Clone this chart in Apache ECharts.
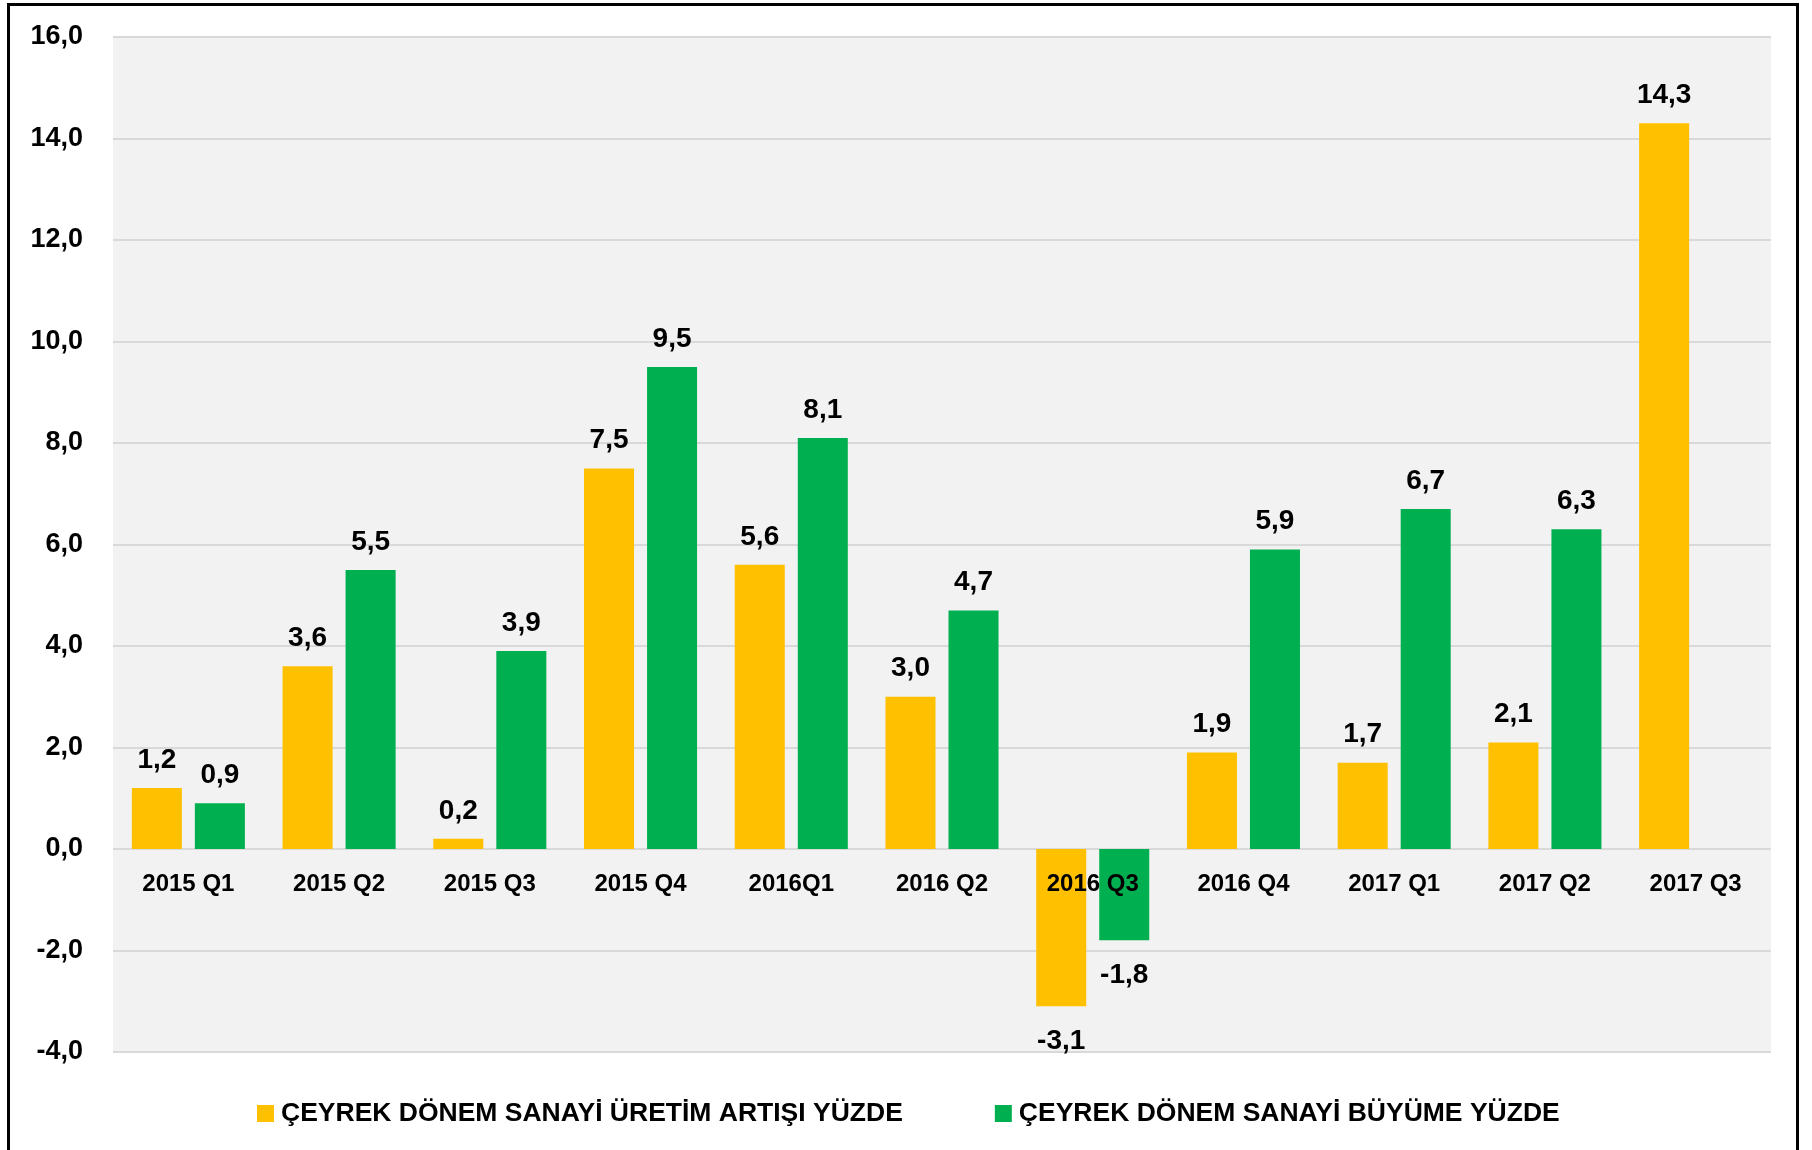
<!DOCTYPE html>
<html>
<head>
<meta charset="utf-8">
<script src="https://cdn.jsdelivr.net/npm/echarts@6/dist/echarts.min.js"></script>
<style>
  html, body { margin: 0; padding: 0; background: #fff; }
  #chart { width: 1812px; height: 1150px; }
  #frame { position: absolute; left: 7px; top: 3px; width: 1792px; height: 1170px; border: 3px solid #000; pointer-events: none; box-sizing: border-box; }
</style>
</head>
<body>
<div id="chart"></div>
<div id="frame"></div>
<script>
const categories = ['2015 Q1', '2015 Q2', '2015 Q3', '2015 Q4', '2016Q1', '2016 Q2', '2016 Q3', '2016 Q4', '2017 Q1', '2017 Q2', '2017 Q3'];
const uretimArtisi = [1.2, 3.6, 0.2, 7.5, 5.6, 3.0, -3.1, 1.9, 1.7, 2.1, 14.3];
const buyume = [0.9, 5.5, 3.9, 9.5, 8.1, 4.7, -1.8, 5.9, 6.7, 6.3, null];
const seriesNames = ['ÇEYREK DÖNEM SANAYİ ÜRETİM ARTIŞI YÜZDE', 'ÇEYREK DÖNEM SANAYİ BÜYÜME YÜZDE'];
const yMin = -4, yMax = 16, yStep = 2;

const FONT = '"Liberation Sans", Arial, sans-serif';
const fmt = v => v.toFixed(1).replace('.', ',');

const CHART_H = 1150, GRID_TOP = 37, GRID_BOTTOM = 98;
const gridHeight = CHART_H - GRID_TOP - GRID_BOTTOM;
// move the category axis up to the zero line
const zeroOffset = -((0 - yMin) / (yMax - yMin)) * gridHeight;

function toItems(arr) {
  return arr.map(v => v == null ? null : {
    value: v,
    label: v < 0 ? { position: 'bottom', distance: 21 } : { position: 'top', distance: 14 }
  });
}

const labelStyle = {
  show: true,
  color: '#000',
  fontFamily: FONT,
  fontWeight: 'bold',
  fontSize: 28,
  formatter: p => fmt(p.value)
};

const chart = echarts.init(document.getElementById('chart'), null, { renderer: 'canvas' });
chart.setOption({
  animation: false,
  backgroundColor: '#fff',
  textStyle: { fontFamily: FONT },
  grid: {
    left: 113, right: 41, top: GRID_TOP, bottom: GRID_BOTTOM,
    show: true, backgroundColor: '#F2F2F2', borderWidth: 0
  },
  legend: {
    left: 252, top: 1095,
    icon: 'rect', itemWidth: 17, itemHeight: 17, itemGap: 92,
    textStyle: { color: '#000', fontFamily: FONT, fontWeight: 'bold', fontSize: 26.5, padding: [0, 0, 0, 2] },
    data: seriesNames
  },
  xAxis: {
    type: 'category',
    data: categories,
    z: 10,
    position: 'bottom',
    offset: zeroOffset,
    axisLine: { show: false, onZero: false },
    axisTick: { show: false },
    axisLabel: { color: '#000', fontFamily: FONT, fontWeight: 'bold', fontSize: 24, margin: 23, interval: 0 },
    splitLine: { show: false }
  },
  yAxis: {
    type: 'value',
    min: yMin, max: yMax, interval: yStep,
    axisLine: { show: false },
    axisTick: { show: false },
    axisLabel: { color: '#000', fontFamily: FONT, fontWeight: 'bold', fontSize: 27, margin: 30, formatter: v => fmt(v) },
    splitLine: { show: true, lineStyle: { color: '#D9D9D9', width: 2 } }
  },
  series: [
    {
      name: seriesNames[0], type: 'bar',
      data: toItems(uretimArtisi),
      itemStyle: { color: '#FFC000' },
      barCategoryGap: '25%', barGap: '26%',
      label: labelStyle
    },
    {
      name: seriesNames[1], type: 'bar',
      data: toItems(buyume),
      itemStyle: { color: '#00B050' },
      barCategoryGap: '25%', barGap: '26%',
      label: labelStyle
    }
  ]
});
</script>
</body>
</html>
